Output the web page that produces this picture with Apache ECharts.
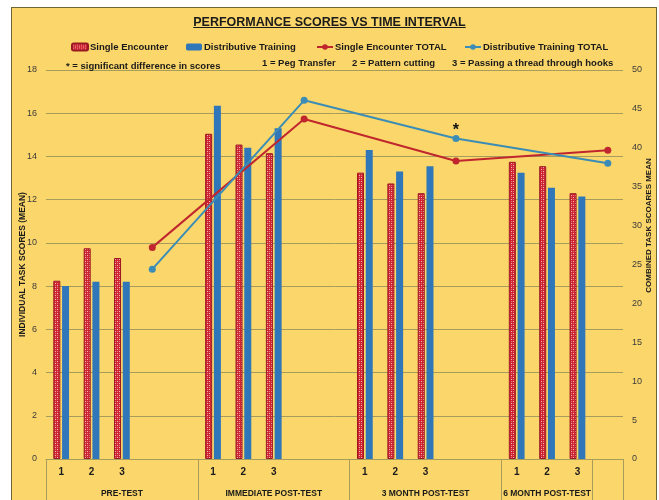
<!DOCTYPE html>
<html>
<head>
<meta charset="utf-8">
<script src="https://cdn.jsdelivr.net/npm/echarts@6/dist/echarts.min.js"></script>
<style>
  html, body { margin: 0; padding: 0; background: #fff; overflow: hidden; }
  #frame { position: absolute; left: 11px; top: 7px; width: 646px; height: 493px;
           background: #FBD66A; border: 1px solid #6E6435; border-bottom: none; box-sizing: border-box; }
  #chart { position: absolute; left: 0; top: 0; width: 659px; height: 500px; }
</style>
</head>
<body>
<div id="frame"></div>
<div id="chart"></div>
<script>
// phases (groups on the x axis) and tasks inside each phase
const phases = ["PRE-TEST", "IMMEDIATE POST-TEST", "3 MONTH POST-TEST", "6 MONTH POST-TEST"];
const taskNames = ["1", "2", "3"];
// individual task scores (mean), one row per phase
const singleEncounter = [
  [8.25, 9.75, 9.3],
  [15.05, 14.55, 14.15],
  [13.25, 12.75, 12.3],
  [13.75, 13.55, 12.3]
];
const distributive = [
  [8.0, 8.2, 8.2],
  [16.35, 14.4, 15.3],
  [14.3, 13.3, 13.55],
  [13.25, 12.55, 12.15]
];
// combined task scores mean
const singleTotal = [27.2, 43.7, 38.3, 39.7];
const distributiveTotal = [24.4, 46.1, 41.2, 38.0];
// * = significant difference
const significant = [false, false, true, false];
// number of slots per phase on the category axis (Excel style layout)
const groupSlots = [5, 5, 5, 3];

const RED = "#D02430";
const BLUE = "#2F77B9";
const RED_LINE = "#C0262E";
const BLUE_LINE = "#3C8DB6";
const GRID = "#A89C5C";
const FONT = "Liberation Sans, Arial, sans-serif";
const TXT = "#1a1a1a";

// build the category slots
let cats = [], groupCats = [], seBars = [], dtBars = [], bounds = [], starts = [];
phases.forEach((p, g) => {
  const start = cats.length;
  starts.push(start);
  bounds.push(start);
  for (let k = 0; k < groupSlots[g]; k++) {
    cats.push(k < 3 ? taskNames[k] : "");
    groupCats.push(k === Math.floor(groupSlots[g] / 2) ? p : "");
    seBars.push(k < 3 ? singleEncounter[g][k] : null);
    dtBars.push(k < 3 ? distributive[g][k] : null);
  }
});
// trailing empty slot holding the last total point
bounds.push(cats.length);
cats.push(""); groupCats.push(""); seBars.push(null); dtBars.push(null);

let seTot = cats.map(() => null);
let dtTot = cats.map(() => null);
starts.forEach((s, g) => {
  seTot[s + 3] = singleTotal[g];
  dtTot[s + 3] = significant[g]
    ? { value: distributiveTotal[g], label: { show: true, formatter: "*", position: "top", distance: 0,
        offset: [0, 4], fontSize: 16, fontWeight: "bold", color: "#111", fontFamily: FONT } }
    : distributiveTotal[g];
});

// checkered pattern for the single encounter bars
function makePattern() {
  const c = document.createElement("canvas");
  c.width = 4; c.height = 4;
  const ctx = c.getContext("2d");
  ctx.fillStyle = RED;
  ctx.fillRect(0, 0, 4, 4);
  ctx.fillStyle = "#F2B8BC";
  ctx.fillRect(1, 1, 1, 1);
  ctx.fillRect(3, 3, 1, 1);
  ctx.fillStyle = "#E27780";
  ctx.fillRect(3, 1, 1, 1);
  ctx.fillRect(1, 3, 1, 1);
  return c;
}
const pattern = { image: makePattern(), repeat: "repeat" };

// title underline width
const titleText = "PERFORMANCE SCORES VS TIME INTERVAL";
const mctx = document.createElement("canvas").getContext("2d");
mctx.font = "bold 12.5px " + FONT;
const titleW = mctx.measureText(titleText).width;
const titleCx = 659 / 2;

const chart = echarts.init(document.getElementById("chart"));

const noteStyle = { fontSize: 9.5, fontWeight: "bold", color: TXT, fontFamily: FONT };
const legendBase = {
  top: 37, itemWidth: 16, itemHeight: 7, itemGap: 4,
  textStyle: { fontSize: 9.5, fontWeight: "bold", color: TXT, fontFamily: FONT, padding: [0, 0, 0, -3] }
};

chart.setOption({
  backgroundColor: "transparent",
  animation: false,
  title: [
    { text: titleText, left: "center", top: 11,
      textStyle: { fontSize: 12.5, fontWeight: "bold", color: TXT, fontFamily: FONT } },
    { text: "* = significant difference in scores", left: 61, top: 56, textStyle: noteStyle },
    { text: "1 = Peg Transfer", left: 257, top: 53, textStyle: noteStyle },
    { text: "2 = Pattern cutting", left: 347, top: 53, textStyle: noteStyle },
    { text: "3 = Passing a thread through hooks", left: 447, top: 53, textStyle: noteStyle }
  ],
  graphic: [
    { type: "line", shape: { x1: titleCx - titleW / 2, y1: 27.5, x2: titleCx + titleW / 2, y2: 27.5 },
      style: { stroke: TXT, lineWidth: 1 } }
  ],
  legend: [
    Object.assign({}, legendBase, { left: 66, data: ["Single Encounter"] }),
    Object.assign({}, legendBase, { left: 181, data: ["Distributive Training"] }),
    Object.assign({}, legendBase, { left: 311, data: ["Single Encounter TOTAL"] }),
    Object.assign({}, legendBase, { left: 459, data: ["Distributive Training TOTAL"] })
  ],
  grid: { left: 46, right: 36, top: 70, bottom: 41, containLabel: false, outerBoundsMode: "none" },
  xAxis: [
    {
      type: "category", data: cats, position: "bottom",
      axisLine: { lineStyle: { color: GRID } },
      axisTick: { show: false },
      axisLabel: { interval: 0, margin: 8, fontSize: 10, fontWeight: "bold", color: TXT, fontFamily: FONT }
    },
    {
      type: "category", data: groupCats, position: "bottom",
      axisLine: { show: false },
      axisTick: { show: true, length: 45, interval: (i) => bounds.indexOf(i) >= 0,
                  lineStyle: { color: GRID } },
      axisLabel: { interval: 0, margin: 30, fontSize: 8.5, fontWeight: "bold", color: TXT, fontFamily: FONT }
    }
  ],
  yAxis: [
    {
      type: "value", min: 0, max: 18, interval: 2,
      axisLine: { show: false }, axisTick: { show: false },
      axisLabel: { fontSize: 9, margin: 9, color: "#3a3a3a", fontFamily: FONT },
      splitLine: { lineStyle: { color: GRID, width: 1 } },
      name: "INDIVIDUAL TASK SCORES (MEAN)", nameLocation: "middle", nameGap: 19, nameMoveOverlap: false,
      nameTextStyle: { fontSize: 8.5, fontWeight: "bold", color: TXT, fontFamily: FONT }
    },
    {
      type: "value", min: 0, max: 50, interval: 5, position: "right",
      axisLine: { show: false }, axisTick: { show: false },
      axisLabel: { fontSize: 9, margin: 9, color: "#3a3a3a", fontFamily: FONT },
      splitLine: { show: false },
      name: "COMBINED TASK SCOARES MEAN", nameLocation: "middle", nameGap: 22, nameRotate: 90,
      nameMoveOverlap: false,
      nameTextStyle: { fontSize: 8, fontWeight: "bold", color: TXT, fontFamily: FONT,
                       padding: [0, 0, 0, 78] }
    }
  ],
  series: [
    {
      name: "Single Encounter", type: "bar", data: seBars, barWidth: 7, barGap: "25%",
      itemStyle: { color: pattern, borderColor: "#9A1822", borderWidth: 1 }
    },
    {
      name: "Distributive Training", type: "bar", data: dtBars, barWidth: 7,
      itemStyle: { color: BLUE }
    },
    {
      name: "Single Encounter TOTAL", type: "line", yAxisIndex: 1, data: seTot, connectNulls: true,
      symbol: "circle", symbolSize: 7, lineStyle: { color: RED_LINE, width: 2 },
      itemStyle: { color: RED_LINE }
    },
    {
      name: "Distributive Training TOTAL", type: "line", yAxisIndex: 1, data: dtTot, connectNulls: true,
      symbol: "circle", symbolSize: 7, lineStyle: { color: BLUE_LINE, width: 2 },
      itemStyle: { color: BLUE_LINE }
    }
  ]
});
</script>
</body>
</html>
